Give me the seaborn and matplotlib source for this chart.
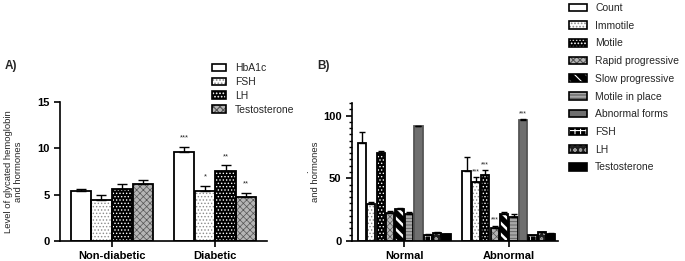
import numpy as np
import pandas as pd
import seaborn as sns
import matplotlib
matplotlib.use("Agg")
import matplotlib.pyplot as plt
from matplotlib.patches import Patch, Rectangle
from matplotlib.ticker import MultipleLocator

sns.set_style("ticks")
plt.rcParams['font.family'] = ['Liberation Sans', 'DejaVu Sans']
plt.rcParams['hatch.linewidth'] = 0.8

# ---------------- Data: panel A ----------------
groups_a = ["Non-diabetic", "Diabetic"]
measures_a = ["HbA1c", "FSH", "LH", "Testosterone"]
hba1c_a = [5.4, 9.57]
fsh_a = [4.46, 5.4]
lh_a = [5.62, 7.6]
testo_a = [6.2, 4.7]
hba1c_a_err = [0.18, 0.57]
fsh_a_err = [0.54, 0.54]
lh_a_err = [0.54, 0.55]
testo_a_err = [0.4, 0.5]
stars_a = {("Diabetic", "HbA1c"): "***", ("Diabetic", "FSH"): "*",
           ("Diabetic", "LH"): "**", ("Diabetic", "Testosterone"): "**"}

# ---------------- Data: panel B ----------------
groups_b = ["Normal", "Abnormal"]
measures_b = ["Count", "Immotile", "Motile", "Rapid progressive", "Slow progressive",
              "Motile in place", "Abnormal forms", "FSH", "LH", "Testosterone"]
normal_b = [78.4, 29.2, 70.4, 22.0, 25.8, 21.2, 91.4, 4.8, 6.6, 5.6]
normal_b_err = [8.7, 1.9, 1.0, 1.9, 0.8, 1.6, 0.5, 0.5, 0.6, 0.3]
abnormal_b = [55.8, 46.7, 52.6, 10.1, 21.2, 19.4, 96.7, 4.5, 6.9, 5.8]
abnormal_b_err = [11.4, 4.3, 4.0, 2.1, 1.9, 1.8, 0.5, 0.5, 0.5, 0.3]
stars_b = {("Abnormal", "Immotile"): "***", ("Abnormal", "Motile"): "***",
           ("Abnormal", "Rapid progressive"): "***", ("Abnormal", "Abnormal forms"): "***"}

# ---------------- Styles ----------------
# (facecolor, hatch, hatchcolor, hatch linewidth)
style_a = {
    "HbA1c": ("white", "", "black", 0.8),
    "FSH": ("white", ".....", "#8a8a8a", 0.6),
    "LH": ("black", ".....", "white", 0.6),
    "Testosterone": ("#b5b5b5", "xxxxx", "#555555", 0.5),
}
style_b = {
    "Count": ("white", "", "black", 0.8),
    "Immotile": ("white", ".....", "#8a8a8a", 0.6),
    "Motile": ("black", ".....", "white", 0.6),
    "Rapid progressive": ("#b5b5b5", "xxxxx", "#555555", 0.5),
    "Slow progressive": ("black", "\\\\\\", "white", 1.8),
    "Motile in place": ("#a8a8a8", "-----", "#5a5a5a", 0.6),
    "Abnormal forms": ("#6f6f6f", "", "#6f6f6f", 0.8),
    "FSH": ("black", "+++", "white", 0.6),
    "LH": ("#1e1e1e", "ooo", "#9a9a9a", 0.6),
    "Testosterone": ("black", "", "black", 0.8),
}

fig = plt.figure(figsize=(6.85, 2.61), dpi=100)
axA = fig.add_axes([60/685, 1-241/261, (267-60)/685, (241-102)/261])
axB = fig.add_axes([352/685, 1-241/261, (558-352)/685, (241-103)/261])

FS = 7.5
TFS = 8


def style_panel(ax, measures, groups, styles, errs, stars, capsize, starfs, staroff):
    for m, cont in zip(measures, ax.containers):
        fc, hatch, hc, hlw = styles[m]
        for g, bar in zip(groups, cont):
            bar.set_facecolor(fc)
            bar.set_hatch(hatch)
            bar.set_edgecolor(hc)
            bar.set_linewidth(0)
            if hasattr(bar, "set_hatch_linewidth"):
                bar.set_hatch_linewidth(hlw)
            ec = "#555555" if m == "Abnormal forms" else "black"
            ax.add_patch(Rectangle(bar.get_xy(), bar.get_width(), bar.get_height(),
                                   fill=False, edgecolor=ec, linewidth=1.3,
                                   zorder=bar.get_zorder() + 0.1))
            x = bar.get_x() + bar.get_width() / 2
            h = bar.get_height()
            e = errs[(g, m)]
            ax.errorbar([x], [h], yerr=[[0], [e]], fmt="none", ecolor="black",
                        elinewidth=1.0, capsize=capsize, capthick=1.0, zorder=5)
            if (g, m) in stars:
                ax.text(x, h + e + staroff, stars[(g, m)], ha="center", va="bottom",
                        fontsize=starfs, zorder=6)


def handles_for(measures, styles):
    hs = []
    for m in measures:
        fc, hatch, hc, hlw = styles[m]
        inner = Patch(facecolor=fc, hatch=hatch, edgecolor=hc, linewidth=0)
        if hasattr(inner, "set_hatch_linewidth"):
            inner.set_hatch_linewidth(hlw)
        outer = Patch(facecolor="none", edgecolor="black", linewidth=1.2)
        hs.append((inner, outer))
    return hs


# ---------------- Panel A ----------------
rows = []
errs_a = {}
for m, v, e in zip(measures_a, [hba1c_a, fsh_a, lh_a, testo_a],
                   [hba1c_a_err, fsh_a_err, lh_a_err, testo_a_err]):
    for g, vv, ee in zip(groups_a, v, e):
        rows.append({"group": g, "measure": m, "value": vv})
        errs_a[(g, m)] = ee
dfA = pd.DataFrame(rows)
sns.barplot(data=dfA, x="group", y="value", hue="measure", order=groups_a,
            hue_order=measures_a, errorbar=None, width=0.8, gap=0.02,
            legend=False, ax=axA)
style_panel(axA, measures_a, groups_a, style_a, errs_a, stars_a, 3.5, 5.5, 0.6)
axA.set_ylim(0, 15)
axA.set_xlim(-0.5, 1.5)
axA.set_yticks([0, 5, 10, 15])
axA.set_xlabel("")
axA.set_ylabel("Level of glycated hemoglobin\nand hormones", fontsize=6.8, labelpad=10)
axA.tick_params(axis="both", labelsize=TFS, width=1.2, length=4, colors="black")
for lab in axA.get_xticklabels() + axA.get_yticklabels():
    lab.set_fontweight("bold")
sns.despine(ax=axA)
for s in ["left", "bottom"]:
    axA.spines[s].set_linewidth(1.2)
    axA.spines[s].set_color("black")
fig.legend(handles_for(measures_a, style_a), measures_a, loc="upper left",
           bbox_to_anchor=(212/685, 1-63/261), frameon=False, fontsize=FS,
           handlelength=1.3, handleheight=0.75, handletextpad=0.9, labelspacing=0.38,
           borderpad=0, borderaxespad=0)
fig.text(5/685, 1-66/261, "A)", fontsize=8.5, fontweight="bold", va="center")

# ---------------- Panel B ----------------
rows = []
errs_b = {}
for g, v, e in zip(groups_b, [normal_b, abnormal_b], [normal_b_err, abnormal_b_err]):
    for m, vv, ee in zip(measures_b, v, e):
        rows.append({"group": g, "measure": m, "value": vv})
        errs_b[(g, m)] = ee
dfB = pd.DataFrame(rows)
sns.barplot(data=dfB, x="group", y="value", hue="measure", order=groups_b,
            hue_order=measures_b, errorbar=None, width=0.9, gap=0.12,
            legend=False, ax=axB)
style_panel(axB, measures_b, groups_b, style_b, errs_b, stars_b, 2.0, 5, 1.5)
axB.set_ylim(0, 110)
axB.set_xlim(-0.5, 1.47)
axB.set_yticks([0, 50, 100])
axB.yaxis.set_minor_locator(MultipleLocator(5))
axB.set_xlabel("")
axB.set_ylabel(".\nand hormones", fontsize=6.8, labelpad=2)
axB.tick_params(axis="both", which="major", labelsize=TFS, width=1.2, length=4, colors="black")
axB.tick_params(axis="y", which="minor", width=1.0, length=2.5, colors="black")
for lab in axB.get_xticklabels() + axB.get_yticklabels():
    lab.set_fontweight("bold")
sns.despine(ax=axB)
for s in ["left", "bottom"]:
    axB.spines[s].set_linewidth(1.2)
    axB.spines[s].set_color("black")
fig.legend(handles_for(measures_b, style_b), measures_b, loc="upper left",
           bbox_to_anchor=(569/685, 1-3/261), frameon=False, fontsize=FS,
           handlelength=1.75, handleheight=0.75, handletextpad=0.75, labelspacing=0.74,
           borderpad=0, borderaxespad=0)
fig.text(317/685, 1-66/261, "B)", fontsize=8.5, fontweight="bold", va="center")

fig.savefig("out.png", dpi=100)
